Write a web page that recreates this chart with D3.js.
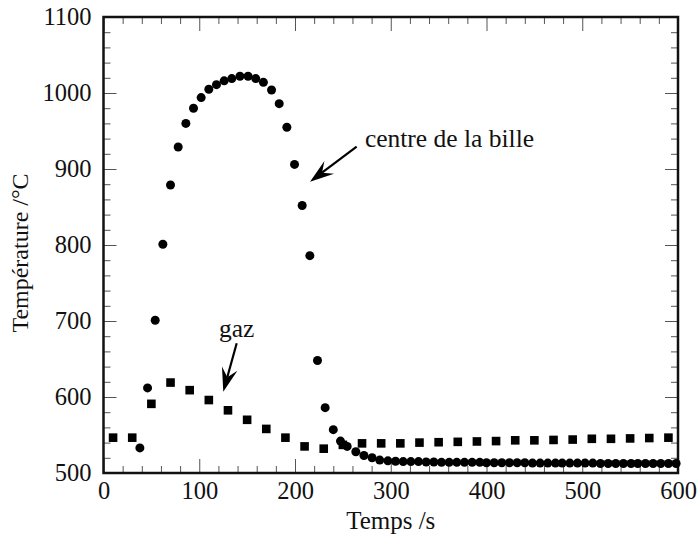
<!DOCTYPE html>
<html>
<head>
<meta charset="utf-8">
<script src="https://cdn.jsdelivr.net/npm/d3@7"></script>
<style>
  body { margin: 0; background: #fff; }
  svg text { font-family: "Liberation Serif", "Times New Roman", serif; fill: #111; }
</style>
</head>
<body>
<div id="chart"></div>
<script>
let width = 699
let height = 539

// centre de la bille (circles)
let billeTemps = [38, 46, 54, 62, 70, 78, 86, 94, 102, 110, 118, 126, 134,
  142.5, 151, 159, 167, 175.5, 183.5, 191.5, 199.5, 207.5, 215.5, 223.5, 231.5, 240,
  247.5, 254.5, 263.5, 272, 280.5, 288.5, 297,
  305, 313, 321, 329, 337, 345, 353, 361, 369, 377, 385, 393, 400, 408, 416, 424, 432,
  440, 448, 456, 464, 472, 479, 487, 495, 503, 511, 519, 527, 535, 543, 551, 558, 566,
  574, 582, 590, 598]
let billeTemp = [533, 612, 701, 801, 879, 929, 960, 980, 994, 1005, 1011, 1016, 1019,
  1022, 1022, 1019, 1014, 1004, 986, 955, 906, 852, 786, 648, 586, 557,
  542, 535, 528, 523, 520, 517, 516,
  515.5, 515, 515, 515, 514.5, 514.5, 514, 514, 514, 514, 514, 514, 513.5, 513.5, 513.5, 513.5, 513.5,
  513.5, 513, 513, 513, 513, 513, 513, 513, 513, 513, 512.5, 512.5, 512.5, 512.5, 512.5, 512.5,
  512.5, 512.5, 512.5, 512.5, 512.5]

// gaz (squares)
let gazTemps = [10, 30, 50, 70, 90, 110, 130, 150, 170, 190, 210, 230, 250, 270, 290,
  310, 330, 350, 370, 390, 410, 430, 450, 470, 490, 510, 530, 550, 570, 590]
let gazTemp = [546.5, 546.5, 591, 619, 609, 596, 582.5, 570, 558, 546.5, 535, 532, 537, 539, 539,
  539, 540, 540.5, 541, 541.5, 542, 543, 543, 543.5, 544, 545, 545, 545.5, 546, 546.5]

let xTicks = [0, 100, 200, 300, 400, 500, 600]
let yTicks = [500, 600, 700, 800, 900, 1000, 1100]

let margin = { left: 103.5, right: 21, top: 17, bottom: 66 }
let serif = "'Liberation Serif', 'Times New Roman', serif"

let svg = d3.select("#chart")
  .append("svg")
    .attr("width", width)
    .attr("height", height)

let x = d3.scaleLinear().domain([0, 600]).range([margin.left, width - margin.right])
let y = d3.scaleLinear().domain([500, 1100]).range([height - margin.bottom, margin.top])

let xMinor = d3.range(0, 601, 20).filter(d => d % 100 != 0)
let yMinor = d3.range(500, 1101, 20).filter(d => d % 100 != 0)

// inward ticks on all four sides
function tickAxis(axisFn, scale, values, size, tx, ty) {
  svg.append("g")
    .attr("transform", `translate(${tx},${ty})`)
    .call(axisFn(scale).tickValues(values).tickSize(size).tickFormat(""))
    .call(g => g.select(".domain").remove())
    .call(g => g.selectAll("line").attr("stroke", "#555").attr("stroke-width", 1))
}
let x0 = x(0), x1 = x(600), y0 = y(500), y1 = y(1100)
tickAxis(d3.axisBottom, x, xTicks, -14, 0, y0)
tickAxis(d3.axisBottom, x, xMinor, -7, 0, y0)
tickAxis(d3.axisTop, x, xTicks, -14, 0, y1)
tickAxis(d3.axisTop, x, xMinor, -7, 0, y1)
tickAxis(d3.axisLeft, y, yTicks, -13, x0, 0)
tickAxis(d3.axisLeft, y, yMinor, -7, x0, 0)
tickAxis(d3.axisRight, y, yTicks, -13, x1, 0)
tickAxis(d3.axisRight, y, yMinor, -7, x1, 0)

// tick labels
svg.append("g")
  .attr("transform", `translate(0,${y0})`)
  .attr("font-family", serif)
  .call(d3.axisBottom(x).tickValues(xTicks).tickSize(0).tickPadding(9).tickFormat(d3.format("d")))
  .call(g => g.select(".domain").remove())
  .selectAll("text")
    .style("font-size", "24.5px")
    .attr("fill", "#111")

svg.append("g")
  .attr("transform", `translate(${x0},0)`)
  .attr("font-family", serif)
  .call(d3.axisLeft(y).tickValues(yTicks).tickSize(0).tickPadding(12).tickFormat(d3.format("d")))
  .call(g => g.select(".domain").remove())
  .selectAll("text")
    .style("font-size", "24.5px")
    .attr("fill", "#111")

// frame
svg.append("rect")
  .attr("x", x0)
  .attr("y", y1)
  .attr("width", x1 - x0)
  .attr("height", y0 - y1)
  .attr("fill", "none")
  .attr("stroke", "#111")
  .attr("stroke-width", 2.5)

// axis titles
svg.append("text")
  .attr("x", (x0 + x1) / 2)
  .attr("y", 529)
  .attr("text-anchor", "middle")
  .style("font-size", "25px")
  .text("Temps /s")

svg.append("text")
  .attr("transform", "translate(28,253) rotate(-90)")
  .attr("text-anchor", "middle")
  .style("font-size", "24px")
  .text("Température /°C")

// points
let bille = billeTemps.map((t, i) => ({ t: t, v: billeTemp[i] }))
let gaz = gazTemps.map((t, i) => ({ t: t, v: gazTemp[i] }))

svg.append("g")
  .selectAll("rect")
  .data(gaz)
  .enter()
  .append("rect")
    .attr("x", d => x(d.t) - 4.3)
    .attr("y", d => y(d.v) - 4.3)
    .attr("width", 8.6)
    .attr("height", 8.6)
    .attr("fill", "#000")

svg.append("g")
  .selectAll("circle")
  .data(bille)
  .enter()
  .append("circle")
    .attr("cx", d => x(d.t))
    .attr("cy", d => y(d.v))
    .attr("r", 4.5)
    .attr("fill", "#000")

// annotations: arrow from (t1,v1) to tip (t2,v2)
function arrow(t1, v1, t2, v2) {
  let ax = x(t1), ay = y(v1), bx = x(t2), by = y(v2)
  let ang = Math.atan2(by - ay, bx - ax)
  let len = 24, half = 8, notch = 15
  let ux = Math.cos(ang), uy = Math.sin(ang)
  let px = -uy, py = ux
  svg.append("line")
    .attr("x1", ax).attr("y1", ay)
    .attr("x2", bx - ux * notch).attr("y2", by - uy * notch)
    .attr("stroke", "#000")
    .attr("stroke-width", 2.2)
  let pts = [
    [bx, by],
    [bx - ux * len + px * half, by - uy * len + py * half],
    [bx - ux * notch, by - uy * notch],
    [bx - ux * len - px * half, by - uy * len - py * half]
  ]
  svg.append("path")
    .attr("d", "M" + pts.map(p => p.join(",")).join("L") + "Z")
    .attr("fill", "#000")
}

arrow(264.4, 929.4, 215.7, 883.3)
arrow(139.1, 670.7, 125.1, 607)

svg.append("text")
  .attr("x", x(273))
  .attr("y", y(929))
  .style("font-size", "25.5px")
  .text("centre de la bille")

svg.append("text")
  .attr("x", x(139))
  .attr("y", y(679))
  .attr("text-anchor", "middle")
  .style("font-size", "25.5px")
  .text("gaz")
</script>
</body>
</html>
